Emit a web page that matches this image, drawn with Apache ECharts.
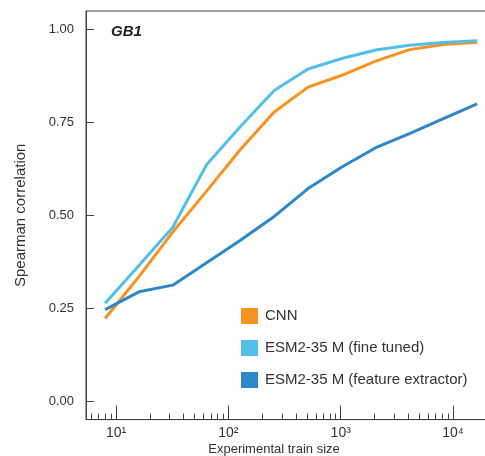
<!DOCTYPE html>
<html>
<head>
<meta charset="utf-8">
<script src="https://cdn.jsdelivr.net/npm/echarts@6/dist/echarts.min.js"></script>
<style>
html,body{margin:0;padding:0;background:#fff;}
#chart{width:485px;height:456px;}
</style>
</head>
<body>
<div id="chart"></div>
<script>
// ---- data ----
var trainSizes = [8, 16, 32, 64, 128, 256, 512, 1024, 2048, 4096, 8192, 16384];
var cnn        = [0.222, 0.335, 0.455, 0.565, 0.677, 0.778, 0.845, 0.877, 0.915, 0.946, 0.960, 0.966];
var fineTuned  = [0.263, 0.365, 0.468, 0.636, 0.739, 0.836, 0.894, 0.922, 0.945, 0.958, 0.965, 0.970];
var featureExt = [0.246, 0.294, 0.312, 0.372, 0.433, 0.497, 0.572, 0.630, 0.682, 0.720, 0.760, 0.800];
var seriesNames = ['CNN', 'ESM2-35 M (fine tuned)', 'ESM2-35 M (feature extractor)'];
var xMajorTicks = [10, 100, 1000, 10000];
var xMinorTicks = [6, 7, 8, 9, 20, 30, 40, 50, 60, 70, 80, 90, 200, 300, 400, 500, 600, 700, 800, 900,
                   2000, 3000, 4000, 5000, 6000, 7000, 8000, 9000, 20000];
var yTicks = [0, 0.25, 0.5, 0.75, 1.0];
var panelTitle = 'GB1';

function pairs(xs, ys) { return xs.map(function (x, i) { return [x, ys[i]]; }); }
var sup = {'1':'\u00b9','2':'\u00b2','3':'\u00b3','4':'\u2074'};

var colors = ['#F7931E', '#52BFEB', '#2C88C9'];
var axisColor = '#444';
var textColor = '#333';
var font = 'Liberation Sans, Arial, Helvetica, sans-serif';

var chart = echarts.init(document.getElementById('chart'), null, {renderer: 'canvas'});
chart.setOption({
  animation: false,
  backgroundColor: '#fff',
  textStyle: {fontFamily: font},
  title: {
    text: panelTitle, left: 106, top: 19,
    textStyle: {fontSize: 15, fontWeight: 'bold', fontStyle: 'italic', color: '#222', fontFamily: font}
  },
  grid: {
    left: 86, top: 11, right: -13, bottom: 36.4,
    containLabel: false, outerBoundsMode: 'none',
    show: true, borderColor: axisColor, borderWidth: 1, backgroundColor: 'transparent'
  },
  legend: {
    orient: 'vertical', left: 236, top: 303,
    itemWidth: 17, itemHeight: 16, itemGap: 16, icon: 'rect',
    data: seriesNames,
    textStyle: {fontSize: 15, color: textColor, fontFamily: font, padding: [0, 0, 0, 2]}
  },
  xAxis: [{
    type: 'log', logBase: 10, min: 5.406, max: 25119,
    position: 'bottom',
    name: 'Experimental train size', nameLocation: 'middle', nameGap: 23, nameMoveOverlap: false,
    nameTextStyle: {fontSize: 13, color: textColor, fontFamily: font, padding: [0, 36, 0, 0]},
    axisLine: {show: true, onZero: false, lineStyle: {color: axisColor, width: 1}},
    axisTick: {show: true, inside: true, length: 14, customValues: xMajorTicks, lineStyle: {color: axisColor}},
    axisLabel: {
      customValues: xMajorTicks, margin: 7, fontSize: 14, color: textColor, fontFamily: font,
      formatter: function (v) { var e = String(Math.round(Math.log10(v))); return '10' + sup[e]; }
    },
    splitLine: {show: false}, minorTick: {show: false}
  }, {
    type: 'log', logBase: 10, min: 5.406, max: 25119,
    position: 'bottom', gridIndex: 0,
    axisLine: {show: false, onZero: false},
    axisTick: {show: true, inside: true, length: 6, customValues: xMinorTicks, lineStyle: {color: axisColor}},
    axisLabel: {show: false},
    splitLine: {show: false}
  }],
  yAxis: {
    type: 'value', min: -0.05, max: 1.05,
    name: 'Spearman correlation', nameLocation: 'middle', nameGap: 58, nameMoveOverlap: false,
    nameTextStyle: {fontSize: 15, color: textColor, fontFamily: font},
    axisLine: {show: true, onZero: false, lineStyle: {color: axisColor, width: 1}},
    axisTick: {show: true, inside: true, length: 8, customValues: yTicks, lineStyle: {color: axisColor}},
    axisLabel: {
      customValues: yTicks, margin: 12, fontSize: 13, color: textColor, fontFamily: font,
      formatter: function (v) { return v.toFixed(2); }
    },
    splitLine: {show: false}
  },
  series: [
    {name: seriesNames[0], type: 'line', data: pairs(trainSizes, cnn), color: colors[0]},
    {name: seriesNames[1], type: 'line', data: pairs(trainSizes, fineTuned), color: colors[1]},
    {name: seriesNames[2], type: 'line', data: pairs(trainSizes, featureExt), color: colors[2]}
  ].map(function (s) {
    s.xAxisIndex = 0; s.yAxisIndex = 0;
    s.symbol = 'none'; s.showSymbol = false;
    s.lineStyle = {width: 3, color: s.color, join: 'round', cap: 'butt'};
    s.itemStyle = {color: s.color};
    return s;
  })
});
</script>
</body>
</html>
